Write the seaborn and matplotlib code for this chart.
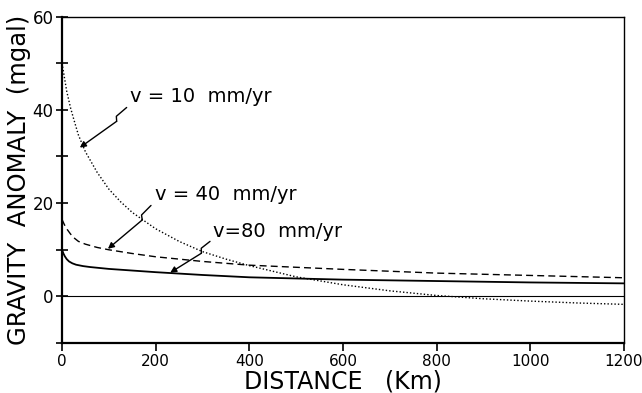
import matplotlib
matplotlib.use("Agg")
import matplotlib.pyplot as plt
import seaborn as sns
import pandas as pd
import numpy as np

# Data
x10 = [0, 5, 10, 18, 25, 35, 50, 75, 100, 125, 150, 200, 250, 300, 350, 400, 500, 600, 700, 800, 900, 1000, 1100, 1200]
y10 = [50, 47, 44, 40.5, 38, 34.6, 31, 26.6, 23, 20.3, 18, 14.5, 11.8, 9.6, 8.0, 6.6, 4.2, 2.5, 1.2, 0.2, -0.5, -1.0, -1.4, -1.7]
x40 = [0, 5, 10, 18, 25, 35, 50, 75, 100, 150, 200, 300, 400, 600, 800, 1000, 1200]
y40 = [16.5, 15.4, 14.5, 13.4, 12.6, 11.8, 11.2, 10.5, 10.0, 9.2, 8.5, 7.5, 6.7, 5.8, 5.0, 4.5, 4.0]
x80 = [0, 3, 6, 10, 15, 22, 30, 45, 60, 80, 100, 150, 200, 300, 400, 600, 800, 1000, 1200]
y80 = [10.0, 9.2, 8.6, 8.0, 7.5, 7.1, 6.8, 6.5, 6.3, 6.1, 5.9, 5.55, 5.2, 4.6, 4.1, 3.6, 3.3, 3.0, 2.8]
xticks = [0, 200, 400, 600, 800, 1000, 1200]
yticks = [0, 20, 40, 60]
labels = ["v = 10  mm/yr", "v = 40  mm/yr", "v=80  mm/yr"]

sns.set_style("ticks")
plt.rcParams['font.family'] = ['DejaVu Sans']
plt.rcParams['text.color'] = 'black'
plt.rcParams['axes.labelcolor'] = 'black'
plt.rcParams['xtick.color'] = 'black'
plt.rcParams['ytick.color'] = 'black'
plt.rcParams['axes.edgecolor'] = 'black'

fig = plt.figure(figsize=(6.42, 3.93), dpi=100)
ax = fig.add_axes([0.0966, 0.127, 0.8754, 0.831])

df10 = pd.DataFrame({"x": x10, "y": y10})
df40 = pd.DataFrame({"x": x40, "y": y40})
df80 = pd.DataFrame({"x": x80, "y": y80})

sns.lineplot(data=df10, x="x", y="y", ax=ax, color="black", lw=1.0, linestyle=(0, (1, 1.5)))
sns.lineplot(data=df40, x="x", y="y", ax=ax, color="black", lw=1.0, linestyle=(0, (5, 3)))
sns.lineplot(data=df80, x="x", y="y", ax=ax, color="black", lw=1.3)
ax.axhline(0, color="black", lw=0.8)

ax.set_xlim(0, 1200)
ax.set_ylim(-10, 60)
ax.set_xticks(xticks)
ax.set_yticks(yticks)
ax.set_yticks([-10, 10, 30, 50], minor=True)
ax.tick_params(axis="x", direction="out", length=6, width=1.2, labelsize=11, pad=2, colors="black")
ax.tick_params(axis="y", which="both", direction="inout", length=8, width=1.2, labelsize=12, pad=2, colors="black")

for s in ["left", "bottom"]:
    ax.spines[s].set_linewidth(1.6)
for s in ["top", "right"]:
    ax.spines[s].set_linewidth(1.0)

ax.set_xlabel("DISTANCE   (Km)", fontsize=17, labelpad=0, color="black")
ax.set_ylabel("GRAVITY  ANOMALY  (mgal)", fontsize=17.5, labelpad=1, color="black")

# annotation: (arrow tip, text anchor, arrow start) in data coords
ann = [((38, 31.9), (145, 42.8), (138, 40.5)),
       ((98, 10.2), (199, 21.9), (190, 19.5)),
       ((231, 5.1), (323, 14.0), (316, 11.8))]
for lab, (tip, txt, st) in zip(labels, ann):
    ax.text(txt[0], txt[1], lab, fontsize=14, ha="left", va="center", color="black")
    S = ax.transData.transform(st)
    T = ax.transData.transform(tip)
    d = T - S
    L = np.hypot(*d)
    u = d / L
    n = np.array([-u[1], u[0]])
    A = S + 0.22 * d
    B = A + 4.0 * n + 3.0 * u
    C = B - 1.0 * n + 1.5 * u
    inv = ax.transData.inverted()
    pA, pB, pC, pS = inv.transform(A), inv.transform(B), inv.transform(C), inv.transform(S)
    ax.plot([pS[0], pA[0], pB[0]], [pS[1], pA[1], pB[1]], color="black", lw=1.0)
    ax.annotate("", xy=tip, xytext=(pB[0], pB[1]),
                arrowprops=dict(arrowstyle="-|>", color="black", lw=1.0,
                                shrinkA=0, shrinkB=0, mutation_scale=9))

fig.savefig("out.png", dpi=100)
